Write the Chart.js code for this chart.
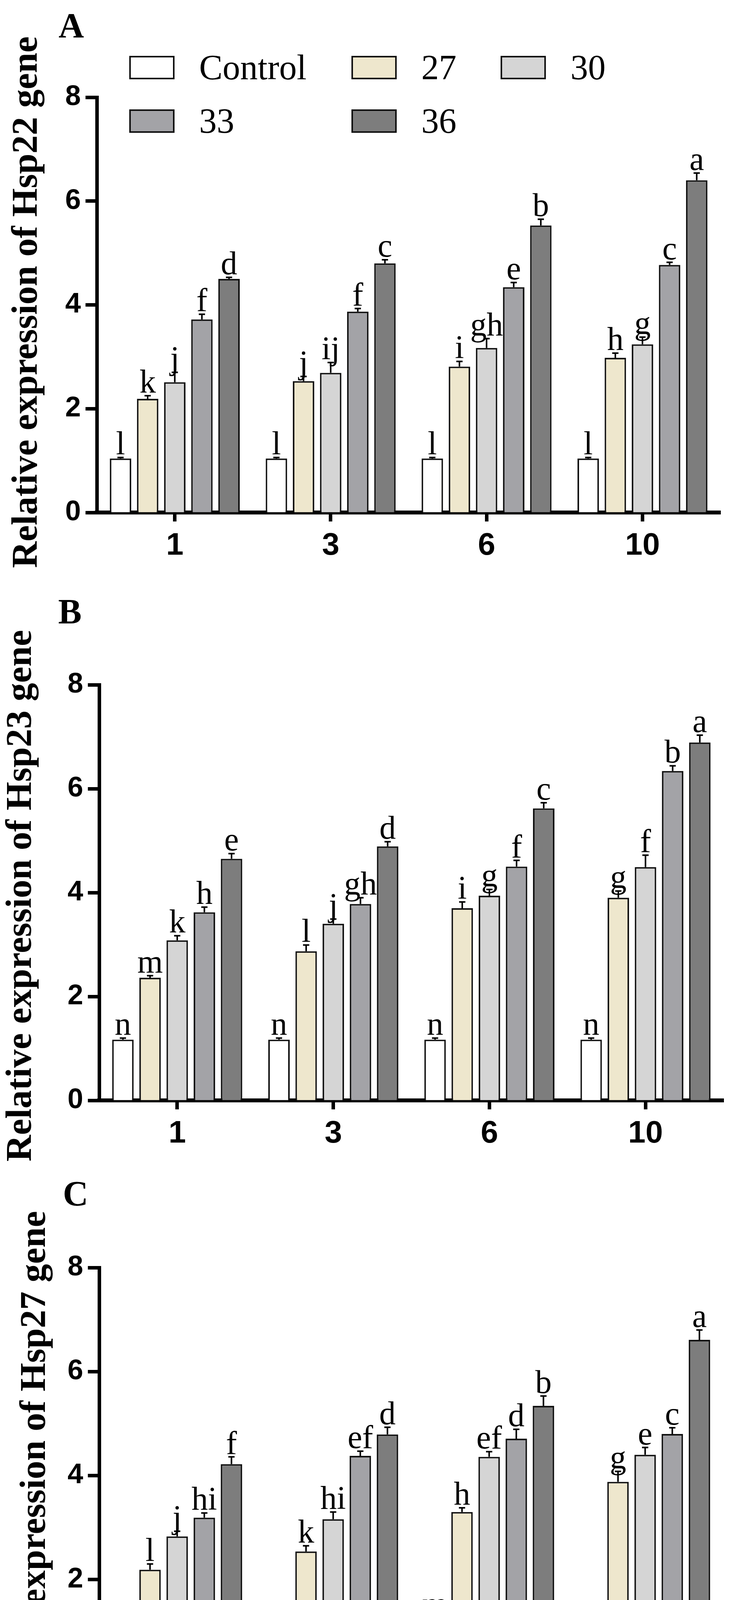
<!DOCTYPE html>
<html>
<head>
<meta charset="utf-8">
<script src="https://cdn.jsdelivr.net/npm/chart.js@4.4.1/dist/chart.umd.min.js"></script>
<style>
html,body{margin:0;padding:0;background:#fff;}
#wrap{position:relative;width:1867px;height:4576px;overflow:hidden;background:#fff;}
.panel{position:absolute;left:0;width:1867px;}
canvas{display:block;}
</style>
</head>
<body>
<div id="wrap">
  <div class="panel" style="top:0px;height:1500px"><canvas id="cA" width="1867" height="1500"></canvas></div>
  <div class="panel" style="top:1500px;height:1500px"><canvas id="cB" width="1867" height="1500"></canvas></div>
  <div class="panel" style="top:3000px;height:1576px"><canvas id="cC" width="1867" height="1576"></canvas></div>
</div>
<script>
// ---------- data ----------
const durations = ['1', '3', '6', '10'];           // treatment duration (h)
const treatments = ['Control', '27', '30', '33', '36'];
const yTickValues = [0, 2, 4, 6, 8];

// Hsp22 (panel A): rows = treatments, cols = durations
const hsp22Mean = [
  [1.04, 1.04, 1.04, 1.04],
  [2.19, 2.53, 2.81, 2.98],
  [2.51, 2.69, 3.17, 3.24],
  [3.72, 3.87, 4.34, 4.77],
  [4.50, 4.80, 5.53, 6.40]
];
const hsp22Err = [
  [0.02, 0.02, 0.02, 0.02],
  [0.06, 0.09, 0.10, 0.09],
  [0.19, 0.20, 0.18, 0.14],
  [0.10, 0.06, 0.09, 0.05],
  [0.03, 0.07, 0.12, 0.14]
];
const hsp22Letters = [
  ['l', 'l', 'l', 'l'],
  ['k', 'j', 'i', 'h'],
  ['j', 'ij', 'gh', 'g'],
  ['f', 'f', 'e', 'c'],
  ['d', 'c', 'b', 'a']
];

// Hsp23 (panel B)
const hsp23Mean = [
  [1.17, 1.17, 1.17, 1.17],
  [2.36, 2.87, 3.70, 3.90],
  [3.08, 3.40, 3.94, 4.49],
  [3.62, 3.78, 4.50, 6.34],
  [4.65, 4.89, 5.62, 6.89]
];
const hsp23Err = [
  [0.03, 0.03, 0.03, 0.03],
  [0.04, 0.12, 0.12, 0.13],
  [0.09, 0.09, 0.12, 0.23],
  [0.10, 0.12, 0.12, 0.10],
  [0.10, 0.09, 0.11, 0.14]
];
const hsp23Letters = [
  ['n', 'n', 'n', 'n'],
  ['m', 'l', 'i', 'g'],
  ['k', 'j', 'g', 'f'],
  ['h', 'gh', 'f', 'b'],
  ['e', 'd', 'c', 'a']
];

// Hsp27 (panel C)
const hsp27Mean = [
  [1.13, 1.13, 1.24, 1.13],
  [2.19, 2.54, 3.30, 3.88],
  [2.83, 3.16, 4.36, 4.40],
  [3.19, 4.38, 4.71, 4.80],
  [4.22, 4.79, 5.34, 6.61]
];
const hsp27Err = [
  [0.02, 0.02, 0.02, 0.02],
  [0.11, 0.11, 0.08, 0.20],
  [0.10, 0.14, 0.10, 0.14],
  [0.09, 0.09, 0.18, 0.12],
  [0.14, 0.14, 0.19, 0.19]
];
const hsp27Letters = [
  ['m', 'm', 'm', 'm'],
  ['l', 'k', 'h', 'g'],
  ['j', 'hi', 'ef', 'e'],
  ['hi', 'ef', 'd', 'c'],
  ['f', 'd', 'b', 'a']
];

// ---------- styles ----------
const barColors = ['#ffffff', '#eee7cd', '#d5d5d5', '#a3a3a7', '#7d7d7d'];
const SERIF = '"Liberation Serif", "Times New Roman", serif';
const SANS = '"Liberation Sans", Arial, sans-serif';

// error bars + significance letters
const annotPlugin = {
  id: 'annot',
  afterDatasetsDraw(chart) {
    const ctx = chart.ctx;
    const ys = chart.scales.y;
    ctx.save();
    ctx.strokeStyle = '#000';
    ctx.fillStyle = '#000';
    ctx.lineWidth = 4;
    ctx.font = '84px ' + SERIF;
    ctx.textAlign = 'center';
    ctx.textBaseline = 'alphabetic';
    chart.data.datasets.forEach((ds, i) => {
      const meta = chart.getDatasetMeta(i);
      meta.data.forEach((bar, j) => {
        const top = ys.getPixelForValue(ds.data[j] + ds.errors[j]);
        ctx.beginPath();
        ctx.moveTo(bar.x, bar.y);
        ctx.lineTo(bar.x, top);
        ctx.moveTo(bar.x - 8, top);
        ctx.lineTo(bar.x + 8, top);
        ctx.stroke();
        ctx.fillText(ds.letters[j], bar.x, top - 8);
      });
    });
    ctx.restore();
  }
};

// panel letter, rotated y title, legend
const textPlugin = {
  id: 'panelText',
  afterDraw(chart, args, o) {
    const ctx = chart.ctx;
    const ca = chart.chartArea;
    ctx.save();
    ctx.fillStyle = '#000';
    ctx.textBaseline = 'alphabetic';
    // panel letter
    ctx.font = 'bold 90px ' + SERIF;
    ctx.textAlign = 'left';
    ctx.fillText(o.letter, o.letterX, o.letterY);
    // y title
    ctx.save();
    ctx.translate(o.titleX, (ca.top + ca.bottom) / 2 + o.titleDY);
    ctx.rotate(-Math.PI / 2);
    ctx.textAlign = 'center';
    ctx.font = 'bold 94px ' + SERIF;
    ctx.fillText(o.title, 0, 0);
    ctx.restore();
    // legend
    if (o.legend) {
      const colX = [331, 900, 1282];
      const rowY = [143, 280];
      ctx.font = '90px ' + SERIF;
      ctx.textAlign = 'left';
      chart.data.datasets.forEach((ds, i) => {
        const x = colX[i % 3], y = rowY[Math.floor(i / 3)];
        ctx.fillStyle = ds.backgroundColor;
        ctx.fillRect(x, y, 116, 60);
        ctx.lineWidth = 4;
        ctx.strokeStyle = '#111';
        ctx.strokeRect(x + 2, y + 2, 112, 56);
        ctx.fillStyle = '#000';
        ctx.fillText(ds.label, x + 179, y + 60);
      });
    }
    ctx.restore();
  }
};

function makeChart(id, means, errs, letters, p) {
  return new Chart(document.getElementById(id), {
    type: 'bar',
    data: {
      labels: durations,
      datasets: treatments.map((t, i) => ({
        label: t,
        data: means[i],
        errors: errs[i],
        letters: letters[i],
        backgroundColor: barColors[i],
        borderColor: '#111',
        borderWidth: 4,
        categoryPercentage: 0.87,
        barPercentage: 0.79
      }))
    },
    options: {
      responsive: false,
      animation: false,
      layout: { padding: { top: p.padTop, right: p.padRight, left: 0, bottom: 0 } },
      plugins: {
        legend: { display: false },
        tooltip: { enabled: false },
        panelText: p.text
      },
      scales: {
        x: {
          grid: { display: true, drawOnChartArea: false, drawTicks: true, offset: false,
                  tickLength: 23, tickWidth: 9, tickColor: '#000' },
          border: { display: true, color: '#000', width: 10 },
          ticks: { color: '#000', padding: 15, maxRotation: 0,
                   font: { family: SANS, weight: 'bold', size: 80 } },
          title: { display: !!p.xTitle, text: p.xTitle || '', color: '#000',
                   font: { family: SERIF, weight: 'bold', size: 90 },
                   padding: { top: 0, bottom: 17 } },
          afterFit(s) { s.height = p.xH; }
        },
        y: {
          min: yTickValues[0],
          max: yTickValues[yTickValues.length - 1],
          grid: { display: true, drawOnChartArea: false, drawTicks: true,
                  tickLength: 29, tickWidth: 9, tickColor: '#000' },
          border: { display: true, color: '#000', width: 9 },
          ticks: { color: '#000', padding: 12, stepSize: yTickValues[1] - yTickValues[0],
                   font: { family: SANS, weight: 'bold', size: 72 } },
          afterFit(s) { s.width = p.yW; }
        }
      }
    },
    plugins: [annotPlugin, textPlugin]
  });
}

makeChart('cA', hsp22Mean, hsp22Err, hsp22Letters, {
  padTop: 249, padRight: 22, yW: 248, xH: 188,
  text: { letter: 'A', letterX: 150, letterY: 96, title: 'Relative expression of Hsp22 gene',
          titleX: 94, titleDY: -7, legend: true }
});
makeChart('cB', hsp23Mean, hsp23Err, hsp23Letters, {
  padTop: 253, padRight: 14, yW: 254, xH: 183,
  text: { letter: 'B', letterX: 149, letterY: 96, title: 'Relative expression of Hsp23 gene',
          titleX: 79, titleDY: 8, legend: false }
});
makeChart('cC', hsp27Mean, hsp27Err, hsp27Letters, {
  padTop: 245, padRight: 15, yW: 254, xH: 266, xTitle: 'Treatment duration (h)',
  text: { letter: 'C', letterX: 161, letterY: 86, title: 'Relative expression of Hsp27 gene',
          titleX: 115, titleDY: 3, legend: false }
});
</script>
</body>
</html>
